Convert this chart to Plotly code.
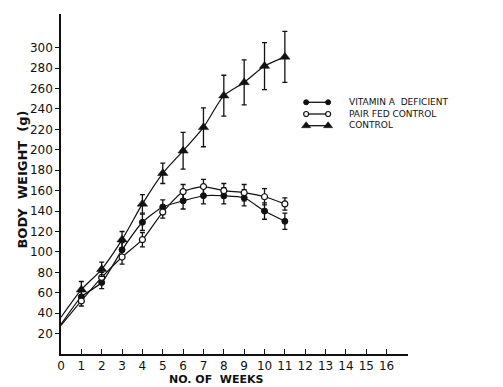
import plotly.graph_objects as go

weeks = [0, 1, 2, 3, 4, 5, 6, 7, 8, 9, 10, 11]

vad = [29, 56, 70, 102, 129, 144, 150, 155, 155, 153, 140, 130]
vad_err = [0, 5, 6, 7, 8, 7, 8, 8, 8, 8, 8, 8]

pf = [28, 52, 75, 95, 112, 139, 159, 164, 160, 158, 154, 147]
pf_err = [0, 5, 5, 7, 7, 6, 7, 7, 7, 8, 8, 6]

ctrl = [36, 63, 83, 112, 147, 177, 199, 222, 253, 266, 282, 291]
ctrl_err = [0, 8, 7, 8, 9, 10, 18, 19, 20, 22, 23, 25]

legend_names = ["VITAMIN A  DEFICIENT", "PAIR FED CONTROL", "CONTROL"]

x_ticks = list(range(0, 17))
y_ticks = list(range(20, 301, 20))

FONT = "DejaVu Sans"
BLACK = "#111111"

# page body has an 8px margin; plot area target (window px): x 60.5-408, y 14-354
OFF = 8
PL, PR, PT, PB = 60.5, 408.0, 14.0, 354.0
PW, PH = PR - PL, PB - PT

def px(xw):
    return (xw - PL) / PW

def py(yw):
    return (PB - yw) / PH

fig = go.Figure()

series = [
    (vad, vad_err, dict(symbol="circle", size=6, color=BLACK, line=dict(color=BLACK, width=1))),
    (pf, pf_err, dict(symbol="circle", size=6, color="white", line=dict(color=BLACK, width=1.2))),
    (ctrl, ctrl_err, dict(symbol="triangle-up", size=9, color=BLACK, line=dict(color=BLACK, width=0.5))),
]

for vals, errs, mk in series:
    fig.add_trace(go.Scatter(
        x=weeks, y=vals, mode="lines",
        line=dict(color=BLACK, width=1.2, shape="spline", smoothing=0.6),
        showlegend=False, hoverinfo="skip"))
for vals, errs, mk in series:
    fig.add_trace(go.Scatter(
        x=weeks[1:], y=vals[1:], mode="markers",
        marker=mk,
        error_y=dict(type="data", array=errs[1:], visible=True,
                     color=BLACK, thickness=1.3, width=2.5),
        showlegend=False))

# custom legend: glyphs on an overlay axis, labels as one multi-line text
LEG_FS = 9
LEG_STEP = LEG_FS * 1.3
LEG_MID = 114
leg_rows = [LEG_MID - LEG_STEP, LEG_MID, LEG_MID + LEG_STEP]
for (vals, errs, mk), ry in zip(series, leg_rows):
    fig.add_trace(go.Scatter(
        x=[px(306), px(328)], y=[py(ry), py(ry)], mode="lines+markers",
        xaxis="x2", yaxis="y2",
        line=dict(color=BLACK, width=1.3),
        marker=dict(mk, size=mk["size"] - 1),
        showlegend=False, hoverinfo="skip"))
fig.add_annotation(
    x=px(348), y=py(LEG_MID), xref="paper", yref="paper",
    text="<br>".join(legend_names), align="left",
    showarrow=False, xanchor="left", yanchor="middle", borderpad=0,
    font=dict(family=FONT, size=LEG_FS, color=BLACK))

fig.add_annotation(
    x=px(216), y=py(379.5), xref="paper", yref="paper", text="<b>NO. OF  WEEKS</b>",
    showarrow=False, xanchor="center", yanchor="middle", borderpad=0,
    font=dict(family=FONT, size=11, color=BLACK))
fig.add_annotation(
    x=px(21), y=py(180), xref="paper", yref="paper",
    text="<b>BODY  WEIGHT  (g)</b>", textangle=-90, showarrow=False,
    xanchor="center", yanchor="middle",
    font=dict(family=FONT, size=13, color=BLACK))

W, H = 503 - OFF, 387 - OFF
fig.update_layout(
    width=W, height=H,
    margin=dict(l=PL - OFF, r=W - (PR - OFF), t=PT - OFF, b=H - (PB - OFF), pad=0),
    paper_bgcolor="white", plot_bgcolor="white",
    showlegend=False,
    font=dict(family=FONT, size=12, color=BLACK),
    xaxis=dict(range=[0, 17.05], tickvals=x_ticks, ticktext=[str(t) for t in x_ticks],
               ticks="inside", ticklen=5, tickwidth=1.2, tickcolor=BLACK,
               showline=True, linecolor=BLACK, linewidth=1.5,
               showgrid=False, zeroline=False,
               tickfont=dict(family=FONT, size=12, color=BLACK)),
    yaxis=dict(range=[0, 333], tickvals=y_ticks, ticktext=[str(t) for t in y_ticks],
               ticks="outside", ticklen=4, tickwidth=1.2, tickcolor=BLACK,
               showline=True, linecolor=BLACK, linewidth=1.5,
               showgrid=False, zeroline=False,
               tickfont=dict(family=FONT, size=12, color=BLACK)),
    xaxis2=dict(overlaying="x", range=[0, 1], visible=False),
    yaxis2=dict(overlaying="y", range=[0, 1], visible=False),
)

fig.write_html("out.html")
